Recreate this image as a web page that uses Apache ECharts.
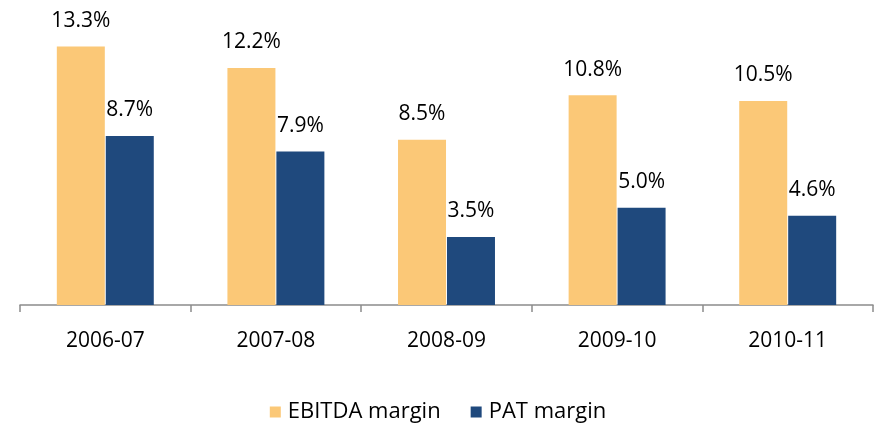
<!DOCTYPE html>
<html>
<head>
<meta charset="utf-8">
<script src="https://cdn.jsdelivr.net/npm/echarts@6/dist/echarts.min.js"></script>
<style>html,body{margin:0;padding:0;background:#fff}#c{width:876px;height:423px}</style>
</head>
<body>
<div id="c"></div>
<script>
const categories = ['2006-07', '2007-08', '2008-09', '2009-10', '2010-11'];
const ebitdaMargin = [13.3, 12.2, 8.5, 10.8, 10.5];
const patMargin = [8.7, 7.9, 3.5, 5.0, 4.6];
const seriesNames = ['EBITDA margin', 'PAT margin'];

const FONT = 'Open Sans';
const chart = echarts.init(document.getElementById('c'));
const labelCfg = {
  show: true, position: 'top', distance: 15,
  color: '#000', fontFamily: FONT, fontSize: 21,
  formatter: p => p.value.toFixed(1) + '%'
};
chart.setOption({
  animation: false,
  grid: { left: 20, right: 3, top: 33, bottom: 118 },
  legend: {
    top: 396, left: 'center', itemWidth: 11, itemHeight: 11, itemGap: 30,
    icon: 'rect',
    textStyle: { fontFamily: FONT, fontSize: 22, color: '#000', padding: [0, 0, 0, 2] },
    data: seriesNames
  },
  xAxis: {
    type: 'category', data: categories,
    axisLine: { lineStyle: { color: '#8c8c8c', width: 1.5 } },
    axisTick: { show: true, length: 7, lineStyle: { color: '#8c8c8c', width: 1.5 } },
    axisLabel: { color: '#000', fontFamily: FONT, fontSize: 21, margin: 26 }
  },
  yAxis: { type: 'value', min: 0, max: 14, show: false, splitLine: { show: false } },
  series: [
    { name: seriesNames[0], type: 'bar', data: ebitdaMargin, barWidth: 48, barGap: '2%',
      itemStyle: { color: '#FBC877' }, label: labelCfg },
    { name: seriesNames[1], type: 'bar', data: patMargin, barWidth: 48, barGap: '2%',
      itemStyle: { color: '#1F497D' }, label: labelCfg }
  ]
});
</script>
</body>
</html>
